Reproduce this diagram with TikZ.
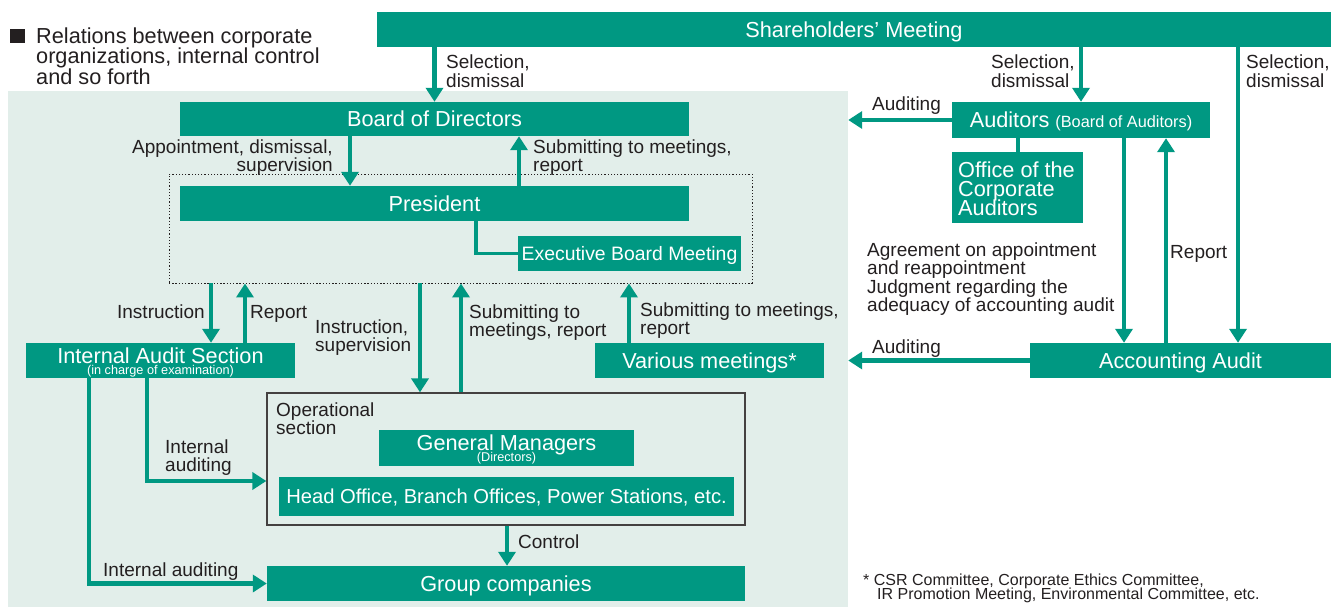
\documentclass[tikz,border=0pt]{standalone}
\usepackage{fontspec}
\setmainfont{Liberation Sans}
\usetikzlibrary{arrows.meta,calc}

\definecolor{orgGreen}{RGB}{0,152,130}
\definecolor{panelBg}{RGB}{226,238,234}
\definecolor{inkGray}{RGB}{35,31,32}

% keeps the line pitch of multi-line labels fixed
\newcommand\fixedpitch{\lineskiplimit-50pt\relax}

% multi-line labels are placed by the baseline of their last line
\tikzset{
  box/.style={fill=orgGreen, text=white, inner sep=0pt,
    font=\fontsize{21.7}{22}\selectfont, text height=15.5pt, text depth=0pt},
  flow/.style={draw=orgGreen, line width=4.5pt,
    -{Triangle[width=17pt,length=14pt]}},
  link/.style={draw=orgGreen, line width=4.5pt},
  lbl/.style={text=inkGray, inner sep=0pt, align=left,
    font=\fontsize{19}{18.5}\selectfont\fixedpitch},
  subtxt/.style={text=white, inner sep=0pt, font=\fontsize{12.7}{13}\selectfont},
}

\begin{document}
\begin{tikzpicture}[x=1pt, y=-1pt]
\useasboundingbox (0,0) rectangle (1337,608);

% shaded area holding the executive side
\node[fill=panelBg, inner sep=0pt, minimum width=840pt, minimum height=516pt] (panel) at (428,349) {};

% heading
\node[fill=inkGray, inner sep=0pt, minimum width=15pt, minimum height=14pt] (bullet) at (17.5,36.3) {};
\node[lbl, anchor=base west, font=\fontsize{21.7}{20.5}\selectfont\fixedpitch] (title) at (36,84)
  {Relations between corporate\\organizations, internal control\\and so forth};

% dotted group: President and Executive Board Meeting
\node[draw=inkGray, line width=0.9pt, dash pattern=on 1.3pt off 1.9pt,
  inner sep=0pt, minimum width=583pt, minimum height=109pt] (exec) at (460.5,228.5) {};

% operational section frame
\node[draw=inkGray!85, line width=1.3pt, inner sep=0pt,
  minimum width=478pt, minimum height=132pt] (ops) at (506,459) {};

% boxes
\node[box, minimum width=954pt, minimum height=35pt] (sh) at (854,29.5) {Shareholders’ Meeting};
\node[box, minimum width=509pt, minimum height=34pt] (bod) at (434.5,119) {Board of Directors};
\node[box, minimum width=509pt, minimum height=35pt] (pres) at (434.5,203.5) {President};
\node[box, minimum width=223pt, minimum height=35pt, font=\fontsize{19.4}{20}\selectfont,
  text height=13.9pt] (ebm) at (629.5,253.5) {Executive Board Meeting};
\node[box, minimum width=269pt, minimum height=35pt] (ias) at (160.5,360.5) {};
\node[box, anchor=base, fill=none] (iasT) at ($(ias.center)+(0,2.5)$) {Internal Audit Section};
\node[subtxt, anchor=base] (iasS) at ($(ias.center)+(0,14)$) {(in charge of examination)};
\node[box, minimum width=229pt, minimum height=35pt] (vm) at (709.5,360.5) {Various meetings*};
\node[box, minimum width=255pt, minimum height=36pt] (gm) at (506.5,448) {};
\node[box, anchor=base, fill=none] (gmT) at ($(gm.center)+(0,2.7)$) {General Managers};
\node[subtxt, anchor=base] (gmS) at ($(gm.center)+(0,13)$) {(Directors)};
\node[box, minimum width=455pt, minimum height=39pt, font=\fontsize{20.2}{21}\selectfont,
  text height=14.5pt] (ho) at (506.5,496.5) {Head Office, Branch Offices, Power Stations, etc.};
\node[box, minimum width=478pt, minimum height=35pt] (gc) at (506,583.5) {Group companies};
\node[box, minimum width=258pt, minimum height=36pt] (aud) at (1081,120)
  {Auditors {\fontsize{16.3}{17}\selectfont(Board of Auditors)}};
\node[box, minimum width=131pt, minimum height=71pt] (oca) at (1017.5,187.5) {};
\node[lbl, anchor=base west, text=white, font=\fontsize{21.7}{19}\selectfont\fixedpitch] (ocaT) at (958,215)
  {Office of the\\Corporate\\Auditors};
\node[box, minimum width=301pt, minimum height=35pt] (aa) at (1180.5,360.5) {Accounting Audit};

% connectors from the Shareholders' Meeting
\coordinate (aaIn) at ($(aa.north)+(57.5,0)$);
\draw[flow] (bod.north |- sh.south) -- (bod.north);
\draw[flow] (aud.north |- sh.south) -- (aud.north);
\draw[flow] (aaIn |- sh.south) -- (aaIn);

% board and president
\draw[flow] (bod.south -| 350,0) -- (pres.north -| 350,0);
\draw[flow] (pres.north -| 519,0) -- (bod.south -| 519,0);
\draw[link, line width=3.5pt] (pres.south -| 476,0) |- (ebm.west);

% executive group and the sections below it
\draw[flow] (exec.south -| 211,0) -- (ias.north -| 211,0);
\draw[flow] (ias.north -| 245,0) -- (exec.south -| 245,0);
\draw[flow] (exec.south -| 420,0) -- (ops.north -| 420,0);
\draw[flow] (ops.north -| 461,0) -- (exec.south -| 461,0);
\draw[flow] (vm.north -| 629,0) -- (exec.south -| 629,0);

% internal auditing paths
\draw[flow] (ias.south -| 89,0) |- (gc.west);
\draw[flow] (ias.south -| 147,0) |- (ops.west |- 0,481);
\draw[flow] (ops.south -| 507,0) -- (gc.north -| 507,0);

% auditors and accounting audit
\draw[flow] (aud.west) -- (aud.west -| panel.east);
\draw[flow] (aa.west) -- (aa.west -| panel.east);
\draw[link] (aud.south -| 1018,0) -- (oca.north -| 1018,0);
\draw[flow] (aud.south -| 1124,0) -- (aa.north -| 1124,0);
\draw[flow] (aa.north -| 1166,0) -- (aud.south -| 1166,0);

% connector labels
\node[lbl, anchor=base west] (l1) at (446,87) {Selection,\\dismissal};
\node[lbl, anchor=base west] (l2) at (991,87) {Selection,\\dismissal};
\node[lbl, anchor=base west] (l3) at (1246,87) {Selection,\\dismissal};
\node[lbl, anchor=base east, align=right] (l4) at (333,171.5) {Appointment, dismissal,\\supervision};
\node[lbl, anchor=base west] (l5) at (533,171.5) {Submitting to meetings,\\report};
\node[lbl, anchor=base east] (l6) at (205,318) {Instruction};
\node[lbl, anchor=base west] (l7) at (250,318) {Report};
\node[lbl, anchor=base west] (l8) at (315,351.5) {Instruction,\\supervision};
\node[lbl, anchor=base west] (l9) at (469,336.5) {Submitting to\\meetings, report};
\node[lbl, anchor=base west] (l10) at (640,334.5) {Submitting to meetings,\\report};
\node[lbl, anchor=base west] (l11) at (276,434.5) {Operational\\section};
\node[lbl, anchor=base west] (l12) at (165,471.5) {Internal\\auditing};
\node[lbl, anchor=base west] (l13) at (103,576) {Internal auditing};
\node[lbl, anchor=base west] (l14) at (518,548) {Control};
\node[lbl, anchor=base west] (l15) at (872,110) {Auditing};
\node[lbl, anchor=base west] (l16) at (872,353) {Auditing};
\node[lbl, anchor=base west] (l17) at (867,311.5)
  {Agreement on appointment\\and reappointment\\Judgment regarding the\\adequacy of accounting audit};
\node[lbl, anchor=base west] (l18) at (1170,258) {Report};

% footnote
\node[lbl, anchor=base west, font=\fontsize{16}{14}\selectfont\fixedpitch] (note) at (863,599)
  {* CSR Committee, Corporate Ethics Committee,\\\hspace*{14pt}IR Promotion Meeting, Environmental Committee, etc.};
\end{tikzpicture}
\end{document}
